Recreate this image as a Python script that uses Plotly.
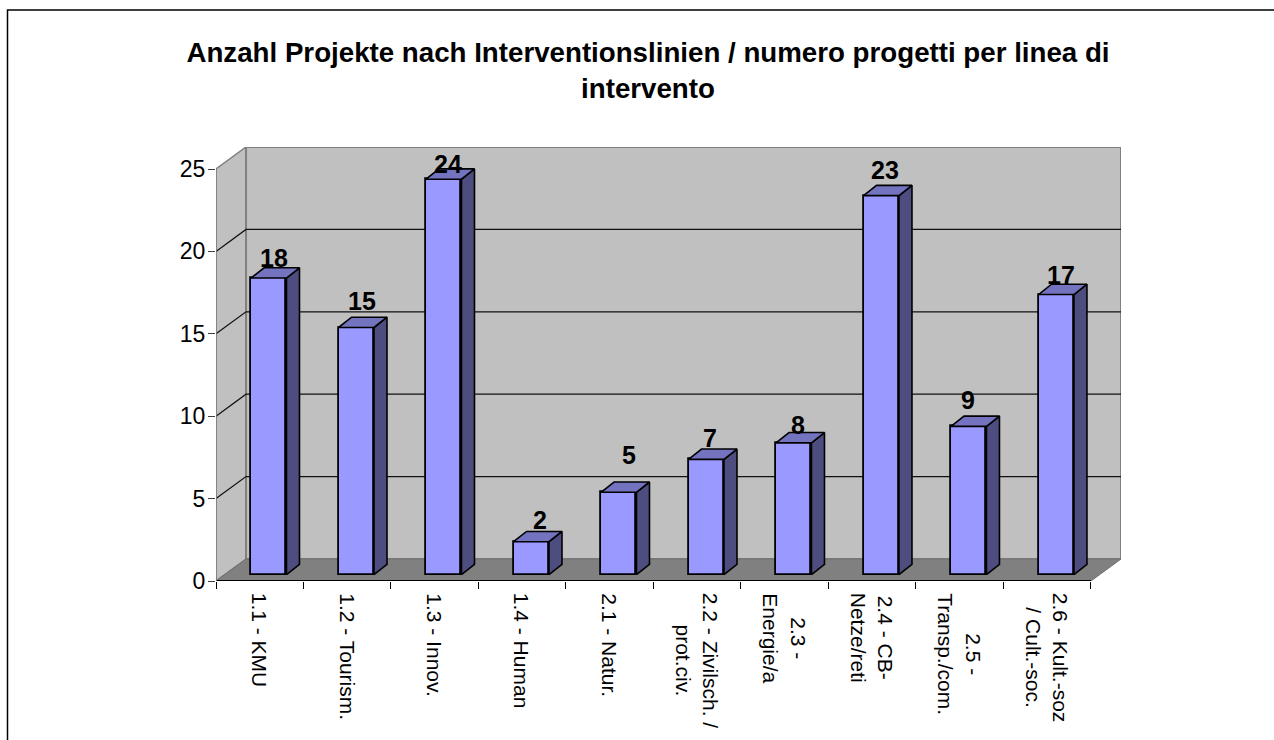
import plotly.graph_objects as go

categories = ["1.1 - KMU", "1.2 - Tourism.", "1.3 - Innov.", "1.4 - Human", "2.1 - Natur.",
              "2.2 - Zivilsch. /<br>prot.civ.", "2.3 -<br>Energie/a", "2.4 - CB-<br>Netze/reti",
              "2.5 -<br>Transp./com.", "2.6 - Kult.-soz<br>/ Cult.-soc."]
values = [18, 15, 24, 2, 5, 7, 8, 23, 9, 17]
y_ticks = [0, 5, 10, 15, 20, 25]
title = "Anzahl Projekte nach Interventionslinien / numero progetti per linea di<br>intervento"

# Value-label nudges in pixels (the source places them unevenly)
label_dx = [5, 6, 4, 9, 10, 4, 4, 4, -1, 5]
label_dy = [20, 27, 15, 22, 37, 21, 18, 26, 26, 20]

FONT = "Liberation Sans"
L, R, T, B = 216, 1121, 147, 581
PX_X = 87.4     # pixels per category
PX_Y = 16.48    # pixels per value unit
DEPTH_X = 30 / PX_X
DEPTH_Y = 22 / PX_Y
BAR_W = 35.4 / PX_X
BAR_OFF_X = 9.0 / PX_X
BAR_BASE = 6.3 / PX_Y
BAR_DX = 13 / PX_X
BAR_DY = 10.3 / PX_Y
n = len(categories)
centers = [i + 0.5 for i in range(n)]
bar_x = [c + BAR_OFF_X for c in centers]


def poly(pts):
    return "M " + " L ".join(f"{x:.5f},{y:.5f}" for x, y in pts) + " Z"


def data_shape(pts, fill, line, width):
    return dict(type="path", xref="x", yref="y", layer="below", path=poly(pts), fillcolor=fill,
                line=dict(color=line, width=width))


top = max(y_ticks)
shapes = [
    # chart frame (runs off the page on the right and bottom)
    dict(type="rect", xref="paper", yref="paper", layer="below",
         x0=(7.5 - L) / (R - L), x1=1.3, y0=-0.5, y1=(B - 10) / (B - T),
         line=dict(color="black", width=1.5), fillcolor="white"),
    data_shape([(0, 0), (DEPTH_X, DEPTH_Y), (DEPTH_X, top + DEPTH_Y), (0, top)], "#C0C0C0", "#808080", 1.5),
    data_shape([(DEPTH_X, DEPTH_Y), (n + DEPTH_X, DEPTH_Y), (n + DEPTH_X, top + DEPTH_Y), (DEPTH_X, top + DEPTH_Y)],
               "#C0C0C0", "#808080", 2),
]
for t in y_ticks[1:-1]:
    shapes.append(dict(type="path", xref="x", yref="y", layer="below",
                       path=f"M 0,{t} L {DEPTH_X},{t + DEPTH_Y} L {n + DEPTH_X},{t + DEPTH_Y}",
                       line=dict(color="#101010", width=1.2)))
shapes.append(data_shape([(0, 0), (DEPTH_X, DEPTH_Y), (n + DEPTH_X, DEPTH_Y), (n, 0)], "#808080", "#707070", 1))

side_x, side_y, top_x, top_y = [], [], [], []
for x, v in zip(bar_x, values):
    xl, xr = x - BAR_W / 2, x + BAR_W / 2
    h = BAR_BASE + v
    side_x += [xr, xr + BAR_DX, xr + BAR_DX, xr, xr, None]
    side_y += [BAR_BASE, BAR_BASE + BAR_DY, h + BAR_DY, h, BAR_BASE, None]
    top_x += [xl, xl + BAR_DX, xr + BAR_DX, xr, xl, None]
    top_y += [h, h + BAR_DY, h + BAR_DY, h, h, None]

fig = go.Figure()
fig.add_trace(go.Bar(x=bar_x, y=values, base=BAR_BASE, width=BAR_W,
                     marker=dict(color="#9999FF", line=dict(color="black", width=1.8))))
fig.add_trace(go.Scatter(x=side_x, y=side_y, mode="lines", fill="toself", fillcolor="#4D4D80",
                         line=dict(color="black", width=1.6)))
fig.add_trace(go.Scatter(x=top_x, y=top_y, mode="lines", fill="toself", fillcolor="#7373BF",
                         line=dict(color="black", width=1.6)))
# base lines of the axes, which stop short of the projected wall
fig.add_trace(go.Scatter(x=[0, n], y=[0, 0], mode="lines", line=dict(color="black", width=2), cliponaxis=False))
fig.add_trace(go.Scatter(x=[0, 0], y=[0, top], mode="lines", line=dict(color="#808080", width=1.5), cliponaxis=False))

annotations = []
for c, v, dx, dy in zip(bar_x, values, label_dx, label_dy):
    annotations.append(dict(x=c, y=BAR_BASE + v, text=f"<b>{v}</b>", showarrow=False, xshift=dx, yshift=dy,
                            font=dict(family=FONT, size=25, color="black")))
for c, lab in zip(centers, categories):
    annotations.append(dict(x=c, y=0, text=lab, showarrow=False, textangle=90, yanchor="top", yshift=-10,
                            align="center", font=dict(family=FONT, size=21, color="black")))

fig.update_layout(
    width=1274, height=740, margin=dict(l=L, r=1274 - R, t=T, b=740 - B),
    paper_bgcolor="white", plot_bgcolor="rgba(0,0,0,0)", showlegend=False, hovermode=False,
    title=dict(text=f"<b>{title}</b>", x=648 / 1274, xanchor="center", y=1 - 62 / 740, yanchor="middle",
               font=dict(family=FONT, size=27.7, color="black")),
    xaxis=dict(range=[0, n + DEPTH_X], tickmode="array", tickvals=list(range(n + 1)), showticklabels=False,
               ticks="outside", ticklen=7, tickcolor="black", tickwidth=1, showgrid=False, zeroline=False,
               showline=False),
    yaxis=dict(range=[0, top + DEPTH_Y], tickmode="array", tickvals=y_ticks, ticks="outside", ticklen=7,
               tickcolor="#404040", tickwidth=1, showgrid=False, zeroline=False, showline=False,
               ticklabelstandoff=-2, tickfont=dict(family=FONT, size=23, color="black")),
    shapes=shapes, annotations=annotations, bargap=0,
)
fig.write_html("out.html", config=dict(displayModeBar=False),
               post_script="document.body.style.margin='0';document.documentElement.style.overflow='hidden';")
